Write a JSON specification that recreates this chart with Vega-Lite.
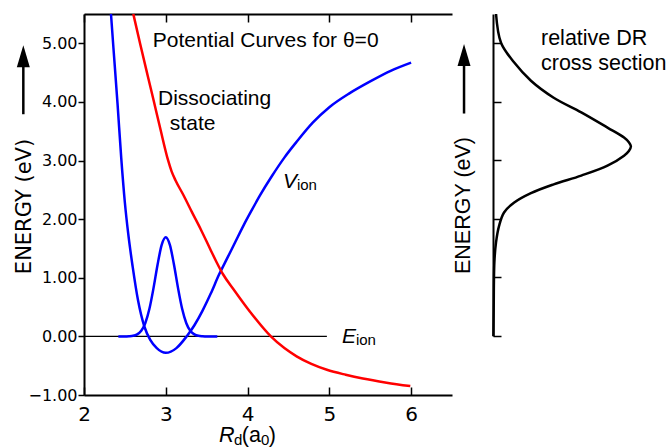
{
  "$schema": "https://vega.github.io/schema/vega-lite/v6.json",
  "padding": {"left": 13, "top": 9, "right": 0, "bottom": 0},
  "spacing": 0,
  "config": {
    "view": {"stroke": null},
    "axis": {"domainColor": "black", "tickColor": "black", "domainWidth": 2, "tickWidth": 1.5, "labelColor": "black", "titleColor": "black", "grid": false, "labelFlush": false, "titleFontWeight": "normal"},
    "text": {"font": "Liberation Sans", "color": "black"}
  },
  "datasets": {
    "eion": [{"R": 2.0, "E": 0}, {"R": 4.97, "E": 0}],
    "wave": [
      {"R": 2.42, "E": 0}, {"R": 2.5, "E": 0}, {"R": 2.55, "E": 0.003}, {"R": 2.6, "E": 0.01}, {"R": 2.65, "E": 0.034},
      {"R": 2.7, "E": 0.095}, {"R": 2.75, "E": 0.229}, {"R": 2.8, "E": 0.47}, {"R": 2.85, "E": 0.823}, {"R": 2.9, "E": 1.227},
      {"R": 2.95, "E": 1.56}, {"R": 3.0, "E": 1.69}, {"R": 3.05, "E": 1.56}, {"R": 3.1, "E": 1.227}, {"R": 3.15, "E": 0.823},
      {"R": 3.2, "E": 0.47}, {"R": 3.25, "E": 0.229}, {"R": 3.3, "E": 0.095}, {"R": 3.35, "E": 0.034}, {"R": 3.4, "E": 0.01},
      {"R": 3.45, "E": 0.003}, {"R": 3.5, "E": 0}, {"R": 3.63, "E": 0}
    ],
    "vion": [
      {"R": 2.33, "E": 5.5}, {"R": 2.36, "E": 4.92}, {"R": 2.41, "E": 3.97}, {"R": 2.455, "E": 3.05}, {"R": 2.5, "E": 2.28},
      {"R": 2.54, "E": 1.76}, {"R": 2.595, "E": 1.19}, {"R": 2.66, "E": 0.62}, {"R": 2.74, "E": 0.16}, {"R": 2.81, "E": -0.06},
      {"R": 2.89, "E": -0.2}, {"R": 3.0, "E": -0.28}, {"R": 3.13, "E": -0.2}, {"R": 3.255, "E": 0.0}, {"R": 3.35, "E": 0.19},
      {"R": 3.45, "E": 0.44}, {"R": 3.55, "E": 0.73}, {"R": 3.65, "E": 1.05}, {"R": 3.75, "E": 1.33}, {"R": 3.85, "E": 1.61},
      {"R": 3.95, "E": 1.89}, {"R": 4.05, "E": 2.15}, {"R": 4.15, "E": 2.4}, {"R": 4.3, "E": 2.74}, {"R": 4.45, "E": 3.05},
      {"R": 4.6, "E": 3.32}, {"R": 4.8, "E": 3.65}, {"R": 5.0, "E": 3.91}, {"R": 5.25, "E": 4.15}, {"R": 5.5, "E": 4.35},
      {"R": 5.75, "E": 4.53}, {"R": 6.0, "E": 4.67}
    ],
    "diss": [
      {"R": 2.603, "E": 5.5}, {"R": 2.685, "E": 5.0}, {"R": 2.782, "E": 4.43}, {"R": 2.856, "E": 4.0}, {"R": 2.937, "E": 3.52},
      {"R": 3.027, "E": 3.01}, {"R": 3.07, "E": 2.82}, {"R": 3.12, "E": 2.66}, {"R": 3.22, "E": 2.4}, {"R": 3.32, "E": 2.12},
      {"R": 3.43, "E": 1.82}, {"R": 3.54, "E": 1.5}, {"R": 3.62, "E": 1.27}, {"R": 3.7, "E": 1.06}, {"R": 3.83, "E": 0.8},
      {"R": 4.03, "E": 0.42}, {"R": 4.285, "E": 0.0}, {"R": 4.45, "E": -0.2}, {"R": 4.6, "E": -0.34}, {"R": 4.78, "E": -0.47},
      {"R": 4.97, "E": -0.57}, {"R": 5.2, "E": -0.655}, {"R": 5.41, "E": -0.72}, {"R": 5.7, "E": -0.79}, {"R": 5.99, "E": -0.848}
    ],
    "dr": [
      {"S": 0.022, "E": 5.5}, {"S": 0.058, "E": 5.01}, {"S": 0.154, "E": 4.67}, {"S": 0.275, "E": 4.36}, {"S": 0.44, "E": 4.07},
      {"S": 0.64, "E": 3.82}, {"S": 0.83, "E": 3.56}, {"S": 0.95, "E": 3.39}, {"S": 0.985, "E": 3.31}, {"S": 1.0, "E": 3.24},
      {"S": 0.985, "E": 3.16}, {"S": 0.95, "E": 3.08}, {"S": 0.83, "E": 2.91}, {"S": 0.64, "E": 2.74}, {"S": 0.44, "E": 2.59},
      {"S": 0.275, "E": 2.44}, {"S": 0.154, "E": 2.28}, {"S": 0.08, "E": 2.11}, {"S": 0.044, "E": 1.88}, {"S": 0.022, "E": 1.6},
      {"S": 0.01, "E": 1.26}, {"S": 0.005, "E": 0.46}, {"S": 0.003, "E": 0.0}
    ]
  },
  "hconcat": [
    {
      "width": 368,
      "height": 381,
      "layer": [
        {
          "data": {"name": "eion"},
          "mark": {"type": "line", "color": "black", "strokeWidth": 1.3},
          "encoding": {
            "x": {"field": "R", "type": "quantitative", "scale": {"domain": [2, 6.5], "nice": false, "zero": false},
              "axis": {"orient": "bottom", "values": [2, 3, 4, 5, 6], "tickSize": -8, "labelPadding": 17, "labelFont": "DejaVu Sans", "labelFontSize": 20, "title": null}},
            "y": {"field": "E", "type": "quantitative", "scale": {"domain": [-1, 5.5], "nice": false, "zero": false},
              "axis": {"orient": "left", "values": [-1, 0, 1, 2, 3, 4, 5], "format": ".2f", "tickSize": 6, "labelPadding": 1, "labelFont": "DejaVu Sans", "labelFontSize": 16,
                "title": "ENERGY (eV)", "titleFont": "DejaVu Sans", "titleFontSize": 21, "titleX": -50, "titleY": 192}}
          }
        },
        {
          "data": {"name": "wave"},
          "mark": {"type": "line", "color": "#0000ff", "strokeWidth": 2.5, "interpolate": "monotone"},
          "encoding": {
            "x": {"field": "R", "type": "quantitative", "axis": {"orient": "top", "values": [2, 3, 4, 5, 6], "tickSize": -8, "labels": false, "title": null}},
            "y": {"field": "E", "type": "quantitative", "axis": null}
          }
        },
        {
          "data": {"name": "vion"},
          "mark": {"type": "line", "color": "#0000ff", "strokeWidth": 2.5, "interpolate": "monotone"},
          "encoding": {
            "x": {"field": "R", "type": "quantitative", "axis": null},
            "y": {"field": "E", "type": "quantitative", "axis": null}
          }
        },
        {
          "data": {"name": "diss"},
          "mark": {"type": "line", "color": "#ff0000", "strokeWidth": 2.5, "interpolate": "monotone"},
          "encoding": {
            "x": {"field": "R", "type": "quantitative", "axis": null},
            "y": {"field": "E", "type": "quantitative", "axis": null}
          }
        },
        {
          "data": {"values": [{}]},
          "mark": {"type": "text", "text": "Potential Curves for θ=0", "fontSize": 21, "align": "left", "baseline": "alphabetic"},
          "encoding": {"x": {"datum": 2.84, "type": "quantitative", "axis": null}, "y": {"datum": 4.94, "type": "quantitative", "axis": null}}
        },
        {
          "data": {"values": [{}]},
          "mark": {"type": "text", "text": "Dissociating", "fontSize": 21, "align": "left", "baseline": "alphabetic"},
          "encoding": {"x": {"datum": 2.905, "type": "quantitative", "axis": null}, "y": {"datum": 3.95, "type": "quantitative", "axis": null}}
        },
        {
          "data": {"values": [{}]},
          "mark": {"type": "text", "text": "state", "fontSize": 21, "align": "left", "baseline": "alphabetic"},
          "encoding": {"x": {"datum": 3.05, "type": "quantitative", "axis": null}, "y": {"datum": 3.52, "type": "quantitative", "axis": null}}
        },
        {
          "data": {"values": [{}]},
          "mark": {"type": "text", "text": "V", "fontSize": 21, "fontStyle": "italic", "align": "right", "baseline": "alphabetic"},
          "encoding": {"x": {"datum": 4.604, "type": "quantitative", "axis": null}, "y": {"datum": 2.53, "type": "quantitative", "axis": null}}
        },
        {
          "data": {"values": [{}]},
          "mark": {"type": "text", "text": "ion", "fontSize": 15, "align": "left", "baseline": "alphabetic"},
          "encoding": {"x": {"datum": 4.604, "type": "quantitative", "axis": null}, "y": {"datum": 2.5, "type": "quantitative", "axis": null}}
        },
        {
          "data": {"values": [{}]},
          "mark": {"type": "text", "text": "E", "fontSize": 21, "fontStyle": "italic", "align": "right", "baseline": "alphabetic"},
          "encoding": {"x": {"datum": 5.325, "type": "quantitative", "axis": null}, "y": {"datum": -0.11, "type": "quantitative", "axis": null}}
        },
        {
          "data": {"values": [{}]},
          "mark": {"type": "text", "text": "ion", "fontSize": 15, "align": "left", "baseline": "alphabetic"},
          "encoding": {"x": {"datum": 5.325, "type": "quantitative", "axis": null}, "y": {"datum": -0.15, "type": "quantitative", "axis": null}}
        },
        {
          "data": {"values": [{}]},
          "mark": {"type": "text", "text": "R", "fontSize": 21.5, "fontStyle": "italic", "align": "left", "baseline": "alphabetic"},
          "encoding": {"x": {"datum": 3.65, "type": "quantitative", "axis": null}, "y": {"datum": -1.81, "type": "quantitative", "axis": null}}
        },
        {
          "data": {"values": [{}]},
          "mark": {"type": "text", "text": "d", "fontSize": 15, "align": "left", "baseline": "alphabetic"},
          "encoding": {"x": {"datum": 3.834, "type": "quantitative", "axis": null}, "y": {"datum": -1.86, "type": "quantitative", "axis": null}}
        },
        {
          "data": {"values": [{}]},
          "mark": {"type": "text", "text": "(a", "fontSize": 21.5, "align": "left", "baseline": "alphabetic"},
          "encoding": {"x": {"datum": 3.93, "type": "quantitative", "axis": null}, "y": {"datum": -1.81, "type": "quantitative", "axis": null}}
        },
        {
          "data": {"values": [{}]},
          "mark": {"type": "text", "text": "0", "fontSize": 15, "align": "left", "baseline": "alphabetic"},
          "encoding": {"x": {"datum": 4.164, "type": "quantitative", "axis": null}, "y": {"datum": -1.86, "type": "quantitative", "axis": null}}
        },
        {
          "data": {"values": [{}]},
          "mark": {"type": "text", "text": ")", "fontSize": 21.5, "align": "left", "baseline": "alphabetic"},
          "encoding": {"x": {"datum": 4.26, "type": "quantitative", "axis": null}, "y": {"datum": -1.81, "type": "quantitative", "axis": null}}
        },
        {
          "data": {"values": [{}]},
          "mark": {"type": "rule", "color": "black", "strokeWidth": 2.5},
          "encoding": {"x": {"datum": 1.258, "type": "quantitative", "axis": null}, "y": {"datum": 3.79, "type": "quantitative", "axis": null}, "y2": {"datum": 4.68}}
        },
        {
          "data": {"values": [{}]},
          "mark": {"type": "point", "shape": "M0,-1L0.59,1L-0.59,1Z", "size": 484, "filled": true, "color": "black", "opacity": 1, "strokeWidth": 0},
          "encoding": {"x": {"datum": 1.258, "type": "quantitative", "axis": null}, "y": {"datum": 4.78, "type": "quantitative", "axis": null}}
        }
      ],
      "resolve": {"axis": {"x": "independent", "y": "independent"}}
    },
    {
      "width": 160,
      "height": 322,
      "layer": [
        {
          "data": {"name": "dr"},
          "mark": {"type": "line", "color": "black", "strokeWidth": 2.5, "interpolate": "catmull-rom"},
          "encoding": {
            "x": {"field": "S", "type": "quantitative", "scale": {"domain": [0, 1.16], "nice": false, "zero": false}, "axis": null},
            "y": {"field": "E", "type": "quantitative", "scale": {"domain": [0, 5.5], "nice": false, "zero": false},
              "axis": {"orient": "left", "values": [0, 1, 2, 3, 4, 5], "labels": false, "tickSize": -8, "title": "ENERGY (eV)", "titleFont": "Liberation Sans", "titleFontSize": 21.5, "titleX": -19, "titleY": 191}},
            "order": {"field": "E", "type": "quantitative"}
          }
        },
        {
          "data": {"values": [{}]},
          "mark": {"type": "text", "text": "relative DR", "fontSize": 21.5, "align": "left", "baseline": "alphabetic"},
          "encoding": {"x": {"datum": 0.348, "type": "quantitative", "axis": null}, "y": {"datum": 4.97, "type": "quantitative", "axis": null}}
        },
        {
          "data": {"values": [{}]},
          "mark": {"type": "text", "text": "cross section", "fontSize": 21.5, "align": "left", "baseline": "alphabetic"},
          "encoding": {"x": {"datum": 0.348, "type": "quantitative", "axis": null}, "y": {"datum": 4.545, "type": "quantitative", "axis": null}}
        },
        {
          "data": {"values": [{}]},
          "mark": {"type": "rule", "color": "black", "strokeWidth": 2.5},
          "encoding": {"x": {"datum": -0.21, "type": "quantitative", "axis": null}, "y": {"datum": 3.8, "type": "quantitative", "axis": null}, "y2": {"datum": 4.69}}
        },
        {
          "data": {"values": [{}]},
          "mark": {"type": "point", "shape": "M0,-1L0.59,1L-0.59,1Z", "size": 484, "filled": true, "color": "black", "opacity": 1, "strokeWidth": 0},
          "encoding": {"x": {"datum": -0.21, "type": "quantitative", "axis": null}, "y": {"datum": 4.8, "type": "quantitative", "axis": null}}
        }
      ],
      "resolve": {"axis": {"y": "independent"}}
    }
  ]
}
